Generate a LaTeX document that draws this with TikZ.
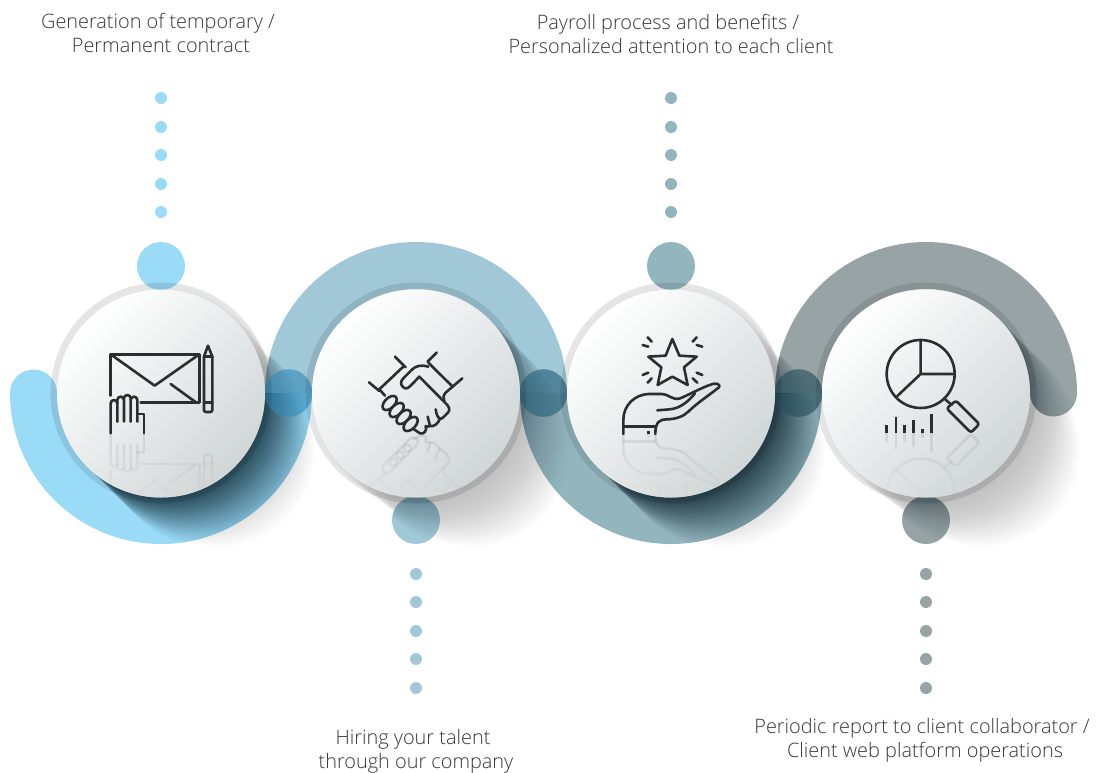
\documentclass[tikz,border=0pt]{standalone}
\usepackage{fontspec}
\setmainfont{Open Sans Light}
\usetikzlibrary{fadings}
\definecolor{cA}{HTML}{9ADBF8}
\definecolor{cB}{HTML}{A0C8D6}
\definecolor{cC}{HTML}{93B5BE}
\definecolor{cD}{HTML}{97A3A5}
\definecolor{jA}{HTML}{318AB9}
\definecolor{jB}{HTML}{29627C}
\definecolor{jC}{HTML}{28515C}
\definecolor{sh}{HTML}{0E2530}
\definecolor{ink}{HTML}{2B2E2E}
\definecolor{txt}{HTML}{383838}
\tikzfading[name=reflfade, top color=transparent!100, bottom color=transparent!0, middle color=transparent!100]
\tikzset{
  textlabel/.style={text=txt, align=center, font=\fontsize{19.9}{24}\selectfont, inner sep=0pt},
  iconline/.style={draw=ink, line width=2.6pt, line cap=round, line join=round},
}
\newcommand\arcA{(10,393) arc[start angle=180,end angle=0,radius=151] -- (265,393) arc[start angle=0,end angle=180,radius=104] arc[start angle=0,end angle=-180,radius=23.5] -- cycle}
\newcommand\arcB{(265,393) arc[start angle=180,end angle=360,radius=151] -- (520,393) arc[start angle=0,end angle=-180,radius=104] -- cycle}
\newcommand\arcC{(520,393) arc[start angle=180,end angle=0,radius=151] -- (775,393) arc[start angle=0,end angle=180,radius=104] -- cycle}
\newcommand\arcD{(775,393) arc[start angle=180,end angle=360,radius=151] arc[start angle=0,end angle=180,radius=23.5] arc[start angle=0,end angle=-180,radius=104] -- cycle}
\newcommand\softshadow[2]{\foreach \k in {1,...,24}{\fill[black,opacity=.012] ({#1+2.4*\k},{#2+2.4*\k}) circle[radius={108-.5*\k}];}}
% #1 x of the disc, #2 strength of the nearest layer
\newcommand\hardshadow[2]{\foreach \k in {1,...,30}{\pgfmathsetmacro\al{#2*(1-\k/32)}\fill[sh,opacity=\al] ({#1+1.8*\k},{393+1.8*\k}) circle[radius=104];}}
\newcommand\discbase[1]{%
  \fill[black,opacity=.1] (#1,393) circle[radius=110.5];
  \shade[top color=white, bottom color=cD!45!white, shading angle=45] (#1,393.5) circle[radius=104];}
\newcommand\discveil[1]{%
  \shade[top color=white, bottom color=cD!45!white, shading angle=45, path fading=reflfade] (#1,393.5) circle[radius=104];}
% icons, in coordinates three times the picture's
\newcommand\iconA{%
  \draw[iconline] (332,497) -- (332,373) -- (598,373) -- (598,518) -- (422,518);
  \draw[iconline] (332,373) -- (464,467) -- (598,373);
  \draw[iconline] (512,462) -- (585,515);
  \draw[iconline] (612,380) -- (612,540) arc[start angle=180,end angle=90,radius=6] -- (631,546) arc[start angle=90,end angle=0,radius=6] -- (637,380) -- (624,347) -- cycle;
  \draw[iconline] (612,518) -- (637,518) (612,380) -- (637,380);
  \draw[iconline] (332,610) -- (332,520) arc[start angle=180,end angle=360,radius=10] -- (352,575);
  \draw[iconline] (352,520) -- (352,510) arc[start angle=180,end angle=360,radius=10] -- (372,575);
  \draw[iconline] (372,505) arc[start angle=180,end angle=360,radius=10] -- (392,575);
  \draw[iconline] (392,510) arc[start angle=180,end angle=360,radius=10] -- (412,575);
  \draw[iconline] (412,552) -- (432,552) -- (432,610);
}
\newcommand\iconB{%
  \draw[iconline] (327,457) -- (358,483) (405,380) -- (437,412) (358,478) -- (430,410);
  \draw[iconline] (530,368) -- (503,395) (607,445) -- (578,470) (505,398) -- (578,470);
  \draw[iconline] (505,410) .. controls (485,403) and (465,408) .. (455,420) -- (430,445) .. controls (420,455) and (422,465) .. (430,472) .. controls (440,480) and (447,472) .. (452,467) -- (478,440) -- (562,525) .. controls (572,537) and (568,545) .. (560,552) -- (550,562) .. controls (542,570) and (532,570) .. (527,538);
  \draw[iconline] (578,470) -- (558,487) .. controls (550,495) and (548,505) .. (553,513);
  \draw[iconline] (540,566) .. controls (535,580) and (522,592) .. (510,588) -- (503,560);
  \draw[iconline] (510,588) .. controls (502,592) and (498,590) .. (497,588) .. controls (502,602) and (492,614) .. (480,610) -- (462,598);
  \draw[iconline] (358,478) -- (375,497);
  \draw[iconline,rotate around={-45:(389,519)}] (389,519) ellipse[x radius=26,y radius=15];
  \draw[iconline,rotate around={-45:(410,540)}] (410,540) ellipse[x radius=26,y radius=15];
  \draw[iconline,rotate around={-45:(431,561)}] (431,561) ellipse[x radius=26,y radius=15];
  \draw[iconline,rotate around={-45:(452,582)}] (452,582) ellipse[x radius=26,y radius=15];
}
\newcommand\iconC{%
  \draw[iconline] (457,327) -- (478,377) -- (530,380) -- (492,412) -- (503,465) -- (457,440) -- (413,465) -- (424,412) -- (385,380) -- (437,377) -- cycle;
  \draw[iconline] (383,322) -- (395,335) (368,345) -- (385,350) (530,322) -- (518,335) (547,350) -- (530,345);
  \draw[iconline] (368,435) -- (385,428) (383,458) -- (395,445) (547,435) -- (530,428) (532,458) -- (518,445);
  \draw[iconline] (310,612) -- (310,570) .. controls (310,525) and (345,494) .. (385,492) -- (425,492) .. controls (445,492) and (455,510) .. (478,506) .. controls (500,498) and (550,470) .. (578,462) .. controls (592,458) and (602,465) .. (597,472) .. controls (575,490) and (530,520) .. (505,545) .. controls (490,560) and (465,568) .. (440,568) .. controls (420,568) and (406,575) .. (406,612);
  \draw[iconline] (412,541) -- (450,538) .. controls (480,535) and (505,515) .. (525,490);
  \draw[iconline] (310,590) -- (406,590);
  \fill[ink] (382,604) rectangle (390,612);
}
\newcommand\iconD{%
  \draw[iconline] (452,432) circle[radius=102];
  \draw[iconline] (452,330) -- (452,432) -- (550,432) (452,432) -- (382,498) (522,505) -- (545,525);
  \draw[iconline,rounded corners=2.5pt] (530,535) -- (558,512) -- (628,582) -- (603,608) -- cycle;
  \foreach \x/\y in {350/585,378/562,404/585,431/570,457/597,485/553}{\draw[iconline,line cap=butt,line width=2.8pt] (\x,610) -- (\x,\y);}
}
\newcommand\placeicon[2]{%
  \begin{scope}[shift={(#2,230)},x=.3333pt,y=.3333pt]#1\end{scope}}
\newcommand\placerefl[3]{%
  \begin{scope}[opacity=.17,shift={(#2,{230+2*#3/3})},x=.3333pt,y=-.3333pt]#1\end{scope}}
\begin{document}
\begin{tikzpicture}[x=1pt,y=1pt,yscale=-1]
\useasboundingbox (0,0) rectangle (1097,772);
% soft shadows
\softshadow{161}{393}\softshadow{416}{393}\softshadow{671}{393}\softshadow{926}{393}
% bands
\fill[cA] \arcA;
\fill[cB] \arcB;
\fill[cC] \arcC;
\fill[cD] \arcD;
% small circles
\fill[cA] (161,266) circle[radius=24];
\fill[cB] (416,520) circle[radius=24];
\fill[cC] (671,266) circle[radius=24];
\fill[cD] (926,520) circle[radius=24];
% shadows falling on the lower bands
\begin{scope}
  \clip \arcA \arcC;
  \hardshadow{161}{.08}\hardshadow{671}{.08}\hardshadow{416}{.028}
\end{scope}
% shadows falling on the upper bands and lower circles
\begin{scope}
  \clip \arcB \arcD (416,520) circle[radius=24] (926,520) circle[radius=24];
  \hardshadow{161}{.028}\hardshadow{416}{.028}\hardshadow{671}{.028}\hardshadow{926}{.028}
\end{scope}
% joints
\fill[jA,opacity=.6] (288.5,393) circle[radius=23.8];
\fill[jB,opacity=.65] (543.5,393) circle[radius=23.8];
\fill[jC,opacity=.65] (798.5,393) circle[radius=23.8];
% dotted lines
\foreach \y in {98,127,155,184,212}{\fill[cA] (161,\y) circle[radius=6];\fill[cC] (671,\y) circle[radius=6];}
\foreach \y in {574,602,631,659,688}{\fill[cB] (416,\y) circle[radius=6];\fill[cD] (926,\y) circle[radius=6];}
% discs
\discbase{161}\discbase{416}\discbase{671}\discbase{926}
% reflections
\begin{scope}\clip (161,393.5) circle[radius=104];\placerefl{\iconA}{0}{610}\end{scope}
\begin{scope}\clip (416,393.5) circle[radius=104];\placerefl{\iconB}{260}{613}\end{scope}
\begin{scope}\clip (671,393.5) circle[radius=104];\placerefl{\iconC}{520}{612}\end{scope}
\begin{scope}\clip (926,393.5) circle[radius=104];\placerefl{\iconD}{770}{610}\end{scope}
\discveil{161}\discveil{416}\discveil{671}\discveil{926}
% icons
\placeicon{\iconA}{0}
\placeicon{\iconB}{260}
\placeicon{\iconC}{520}
\placeicon{\iconD}{770}
% labels
\node[textlabel] (t1) at (161,33) {Generation of temporary /\hspace*{6pt}\\Permanent contract};
\node[textlabel] (t2) at (671,34) {Payroll process and benefits /\hspace*{6pt}\\Personalized attention to each client};
\node[textlabel] (t3) at (416,751) {Hiring your talent\hspace*{6pt}\\through our company};
\node[textlabel] (t4) at (925,740) {Periodic report to client collaborator /\hspace*{6pt}\\Client web platform operations};
\end{tikzpicture}
\end{document}
